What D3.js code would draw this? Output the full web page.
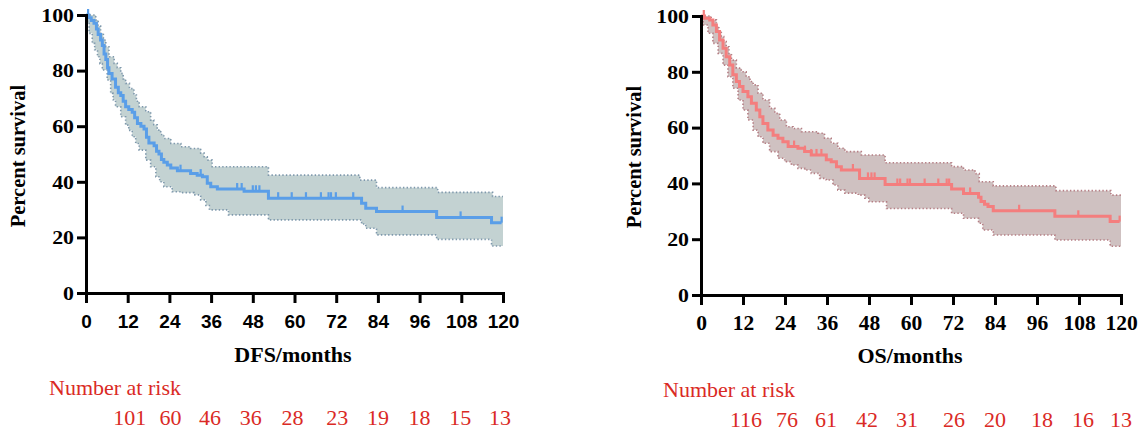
<!DOCTYPE html>
<html>
<head>
<meta charset="utf-8">
<script src="https://cdn.jsdelivr.net/npm/d3@7"></script>
<style>
  html, body { margin: 0; padding: 0; background: #fff; }
  svg { display: block; }
</style>
</head>
<body>
<svg id="chart" width="1142" height="434"></svg>
<script>
// ---------- data ----------
const monthTicks = [0, 12, 24, 36, 48, 60, 72, 84, 96, 108, 120];
const percentTicks = [0, 20, 40, 60, 80, 100];
const riskTimes = [12, 24, 36, 48, 60, 72, 84, 96, 108, 120];

// DFS (left)
const dfsTime = [0, 0.8, 1.5, 2.3, 3.0, 3.5, 4.2, 4.7, 5.2, 5.7, 6.2, 6.6, 7.5, 8.5, 9.3, 10, 10.7, 11.4, 12.3, 13.3, 14, 14.8, 15.8, 16.7, 17.4, 18.1, 19.6, 20.3, 21, 21.7, 22.4, 23.4, 24.4, 26.3, 30.1, 32, 33.5, 34.9, 35.9, 37.8, 45.5, 52.5, 79.3, 80.5, 83.6, 100.9, 116.7, 119.6];
const dfsSurv = [100, 99, 98, 97, 95, 93, 91, 89, 86, 84, 81, 79, 77, 74, 72, 71, 69, 67, 66, 65, 63, 61, 60, 59, 56, 54, 53, 51, 50, 48, 47, 46, 45, 44, 43, 42.4, 41.8, 39.5, 38.2, 37.4, 36.6, 34.1, 32.3, 30.5, 29.3, 27.2, 25.3, 25.3];
const dfsCensor = [0.6, 27.2, 33, 43.5, 44.8, 48, 48.9, 49.9, 55.3, 59.2, 63.3, 67.6, 69.8, 70.5, 71.9, 76.9, 91.1, 107.8, 119.6];
const dfsUpperTime = [0, 1.3, 2.8, 3.5, 4.2, 5, 5.7, 6.6, 8.1, 9, 10, 10.7, 11.4, 12.5, 13.8, 14.5, 15.3, 17.2, 18.6, 19.5, 20.5, 21.5, 22.4, 24.4, 27.3, 30.1, 33, 34, 34.9, 36.3, 52.5, 78.8, 83.6, 101.2, 117, 120];
const dfsUpper = [100, 100, 98.2, 96, 93.4, 91, 88.6, 85, 82.6, 81, 79, 77, 75.4, 73.5, 71.2, 69, 67, 65.2, 62.2, 60.5, 58.6, 57, 55.6, 53.8, 52.6, 52, 50.3, 49, 47.8, 45.4, 42.4, 40.6, 37.9, 36.2, 34.7, 34.7];
const dfsLowerTime = [0, 0.5, 0.9, 1.8, 2.5, 3.3, 4, 4.7, 6.1, 7.1, 7.8, 8.5, 10, 11.4, 12.3, 13.3, 14.3, 15.3, 17.2, 18.6, 20.1, 21.2, 22.4, 24.8, 27.3, 31.1, 33, 34.5, 35.5, 41, 52.5, 79.3, 80.5, 83.6, 100.9, 116.7, 120];
const dfsLower = [100, 97, 93.4, 89.8, 87.5, 85, 82.5, 80.2, 76.6, 71.8, 69.5, 67, 63.4, 60.4, 58.5, 56.2, 53.8, 51.4, 47.8, 45.4, 41.8, 40, 38.2, 36.4, 36.1, 35.3, 33.5, 31.5, 29.9, 28.1, 26.3, 24.8, 23.3, 20.9, 19.3, 16.9, 16.9];
const dfsRisk = [101, 60, 46, 36, 28, 23, 19, 18, 15, 13];

// OS (right)
const osTime = [0, 1, 2.5, 3.4, 4.4, 5.3, 6.3, 7.2, 8.2, 9.1, 10.1, 11, 12, 13.4, 14.4, 15.8, 16.8, 17.7, 19.1, 20.6, 22, 23.4, 24.9, 27.7, 29.6, 31.5, 35.8, 37.2, 38.7, 40.1, 45.3, 52.6, 71.6, 75, 79.3, 80, 81, 82, 83.5, 101.1, 116.9, 119.6];
const osSurv = [100, 99.2, 98.6, 96.8, 94.4, 91.4, 88.4, 85.4, 82.4, 78.9, 76.5, 74.7, 72.9, 71.1, 68.7, 66.3, 63.9, 61.5, 59.1, 57.3, 56.2, 54.9, 53.2, 52.6, 51.4, 50.2, 48.5, 47.8, 46, 44.8, 41.8, 39.6, 38, 36.4, 35, 33.5, 32.5, 31.7, 30.2, 28.2, 26.3, 26.3];
const osCensor = [0.8, 26.6, 29.7, 31.5, 33, 34.4, 43.4, 47.7, 48.7, 49.6, 56.1, 56.9, 59, 59.7, 63.9, 67.8, 70.2, 70.9, 76.9, 90.9, 107.8, 119.6];
const osUpperTime = [0, 1.5, 2.9, 4.4, 5.1, 5.8, 6.5, 7.2, 8, 8.7, 10.1, 11.5, 12.9, 14, 14.9, 16.3, 17.7, 19.6, 21.1, 22.5, 24.4, 26.3, 28.7, 33.4, 35.3, 37.2, 39.1, 41.1, 45.8, 52.6, 71.6, 75, 78.3, 79.5, 83.5, 101.4, 117.1, 120];
const osUpper = [100, 100, 98.6, 96.2, 94.5, 92.6, 90.8, 89, 86.5, 84.2, 81.3, 80, 78.2, 76.5, 75.3, 72.3, 69.9, 66.9, 65.1, 62.7, 60.3, 59.7, 58.5, 58, 56.2, 54.4, 52.6, 51.4, 50.2, 47.4, 46, 44.8, 43.5, 40.6, 39.1, 37.4, 35.8, 35.8];
const osLowerTime = [0, 0.3, 0.6, 2, 3.4, 4.9, 6.3, 7.7, 9.1, 10.6, 12, 13.4, 14.9, 16.3, 17.7, 19.6, 22, 23.9, 25.8, 27.7, 29.6, 31.5, 33.9, 35.8, 37.7, 39.1, 41.1, 44.9, 46.8, 48, 53, 71.6, 75, 79.3, 80.5, 83.5, 101.1, 116.9, 120];
const osLower = [100, 99, 96.8, 93.8, 90.2, 86.6, 82.4, 78.2, 74.1, 69.9, 66.3, 62.7, 59.1, 56.7, 54.4, 51.4, 49, 47.8, 46.6, 45.4, 44.8, 43.6, 41.8, 41.2, 39.4, 37.6, 36.5, 35.8, 34.7, 33.4, 31, 29.3, 27.5, 25.7, 23.3, 21.5, 19.7, 17.5, 17.5];
const osRisk = [116, 76, 61, 42, 31, 26, 20, 18, 16, 13];

// ---------- drawing ----------
const svg = d3.select("#chart");
const riskColor = "#DA2A25";

function stepAt(times, vals, t) {
  let v = vals[0];
  for (let i = 0; i < times.length; i++) { if (times[i] <= t) v = vals[i]; else break; }
  return v;
}

function panel(cfg) {
  const x = d3.scaleLinear().domain([0, 120]).range(cfg.xr);
  const y = d3.scaleLinear().domain([0, 100]).range(cfg.yr);
  const g = svg.append("g");

  // CI band
  const grid = Array.from(new Set([...cfg.upT, ...cfg.loT])).sort((a, b) => a - b);
  const band = grid.map(t => ({ t, u: stepAt(cfg.upT, cfg.up, t), l: stepAt(cfg.loT, cfg.lo, t) }));
  g.append("path").datum(band)
    .attr("d", d3.area().curve(d3.curveStepAfter).x(d => x(d.t)).y0(d => y(d.l)).y1(d => y(d.u)))
    .attr("fill", cfg.band).attr("stroke", "none");
  [[cfg.upT, cfg.up], [cfg.loT, cfg.lo]].forEach(([tt, vv]) => {
    g.append("path").datum(tt.map((t, i) => [t, vv[i]]))
      .attr("d", d3.line().curve(d3.curveStepAfter).x(d => x(d[0])).y(d => y(d[1])))
      .attr("fill", "none").attr("stroke", cfg.dot).attr("stroke-width", 1.6)
      .attr("stroke-dasharray", "1.4,2.2");
  });

  // KM line
  g.append("path").datum(cfg.t.map((t, i) => [t, cfg.s[i]]))
    .attr("d", d3.line().curve(d3.curveStepAfter).x(d => x(d[0])).y(d => y(d[1])))
    .attr("fill", "none").attr("stroke", cfg.line).attr("stroke-width", 3);
  g.selectAll(".cens").data(cfg.cens).join("line")
    .attr("x1", d => x(d)).attr("x2", d => x(d))
    .attr("y1", d => y(stepAt(cfg.t, cfg.s, d)))
    .attr("y2", d => y(stepAt(cfg.t, cfg.s, d)) - 6)
    .attr("stroke", cfg.line).attr("stroke-width", 2.2);

  // axes
  const xa = g.append("g").attr("transform", `translate(0,${cfg.yr[0]})`)
    .call(d3.axisBottom(x).tickValues(monthTicks).tickSize(10).tickSizeOuter(0).tickFormat(d3.format("d")));
  const ya = g.append("g").attr("transform", `translate(${cfg.xr[0]},0)`)
    .call(d3.axisLeft(y).tickValues(percentTicks).tickSize(9).tickSizeOuter(0).tickFormat(d3.format("d")));
  [xa, ya].forEach(a => {
    a.select(".domain").attr("stroke", "#000").attr("stroke-width", 3).attr("stroke-linecap", "square");
    a.selectAll(".tick line").attr("stroke", "#000").attr("stroke-width", 3);
  });
  xa.selectAll(".tick text")
    .attr("y", cfg.xLabY).attr("dy", 0)
    .attr("font-family", cfg.xFont).attr("font-weight", "bold").attr("font-size", cfg.xSize)
    .attr("fill", "#000");
  ya.selectAll(".tick text")
    .attr("x", 0).attr("dy", "0.34em")
    .attr("transform", "translate(-12,0) scale(1.18,1)")
    .attr("font-family", "'Liberation Serif', 'Times New Roman', serif")
    .attr("font-weight", "bold").attr("font-size", 18.5).attr("fill", "#000");

  // titles
  g.append("text").attr("transform", `translate(${cfg.yTitleX},${cfg.yTitleY}) rotate(-90)`)
    .attr("text-anchor", "middle")
    .attr("font-family", "'Liberation Serif', 'Times New Roman', serif")
    .attr("font-weight", "bold").attr("font-size", 20.5).text("Percent survival");
  g.append("text").attr("x", cfg.xTitleX).attr("y", cfg.xTitleY).attr("text-anchor", "middle")
    .attr("font-family", "'Liberation Serif', 'Times New Roman', serif")
    .attr("font-weight", "bold").attr("font-size", 22).text(cfg.xTitle);

  // number at risk
  g.append("text").attr("x", cfg.riskX).attr("y", cfg.riskY)
    .attr("font-family", "'Liberation Serif', 'Times New Roman', serif")
    .attr("font-size", 22).attr("fill", riskColor).text("Number at risk");
  g.selectAll(".risk").data(riskTimes).join("text")
    .attr("x", (d, i) => x(d) + cfg.riskDx[i]).attr("y", cfg.riskY + 30)
    .attr("text-anchor", "middle")
    .attr("font-family", "'Liberation Serif', 'Times New Roman', serif")
    .attr("font-size", 22).attr("fill", riskColor)
    .text((d, i) => cfg.risk[i]);
}

panel({
  xr: [86, 503], yr: [293, 15],
  t: dfsTime, s: dfsSurv, cens: dfsCensor,
  upT: dfsUpperTime, up: dfsUpper, loT: dfsLowerTime, lo: dfsLower,
  band: "#C3D2D2", dot: "#7E98AC", line: "#5A9EE8",
  xFont: "'Liberation Sans', Arial, sans-serif", xSize: 19, xLabY: 35,
  yTitleX: 25, yTitleY: 156, xTitleX: 293, xTitleY: 362, xTitle: "DFS/months",
  riskX: 49, riskY: 395, risk: dfsRisk, riskDx: [2, 1, -1, -2, -2, 1, 0, 0, -1, -3]
});
panel({
  xr: [701, 1121], yr: [295, 16],
  t: osTime, s: osSurv, cens: osCensor,
  upT: osUpperTime, up: osUpper, loT: osLowerTime, lo: osLower,
  band: "#CFC1C1", dot: "#B57E84", line: "#F47E7E",
  xFont: "'Liberation Serif', 'Times New Roman', serif", xSize: 21.5, xLabY: 35,
  yTitleX: 641, yTitleY: 157, xTitleX: 910, xTitleY: 363, xTitle: "OS/months",
  riskX: 663, riskY: 397, risk: osRisk, riskDx: [3, 2, -1, -2, -4, 1, 0, 5, 4, 0]
});
</script>
</body>
</html>
